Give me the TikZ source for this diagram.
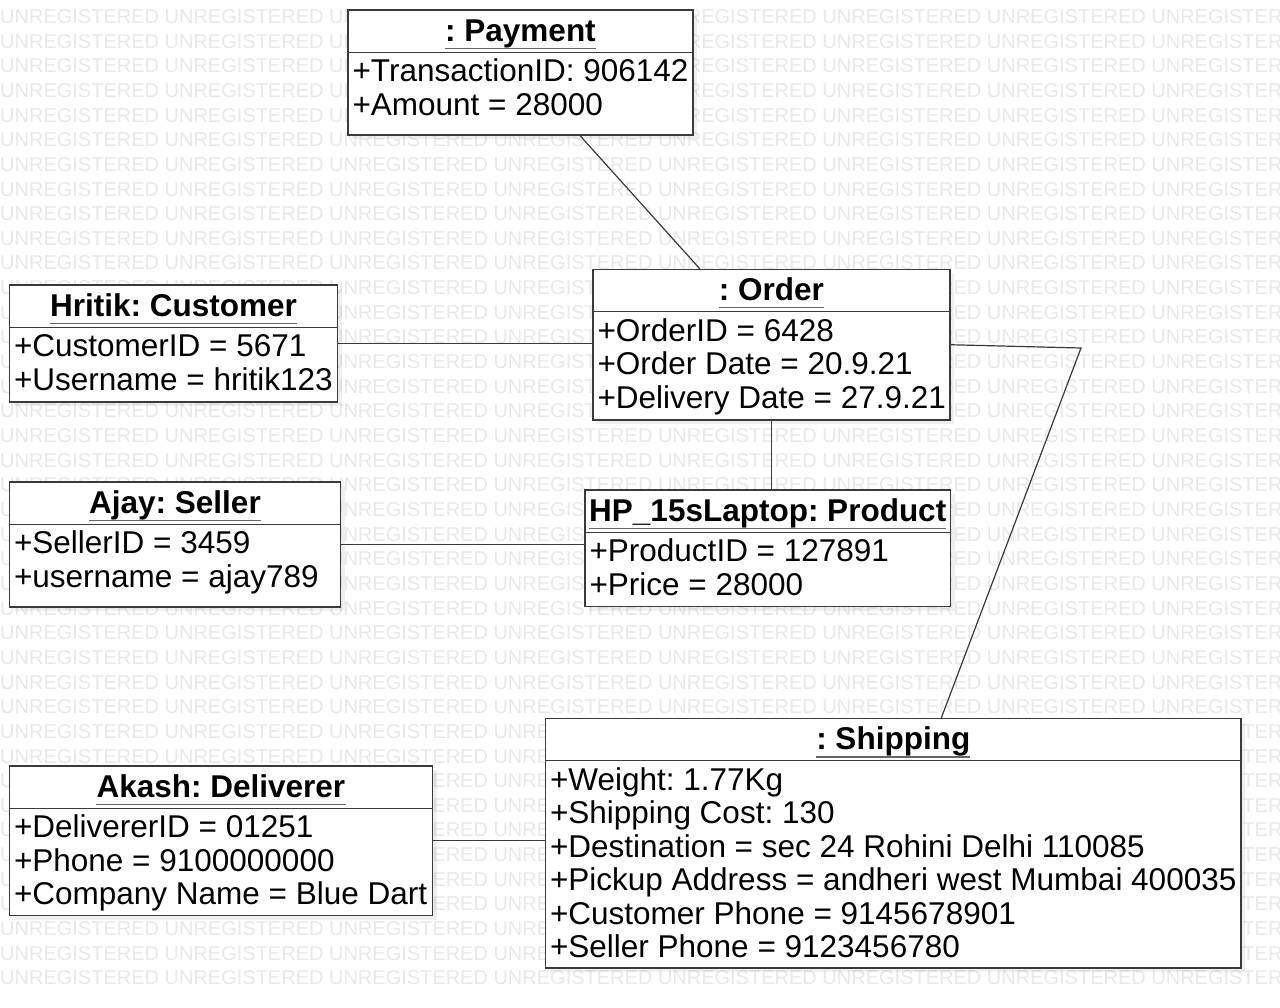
\documentclass[tikz,border=0pt]{standalone}
\usepackage{fontspec}
\setmainfont{Liberation Sans}
\usetikzlibrary{calc,shadows}
\definecolor{umlline}{HTML}{3A3A3A}
\definecolor{wmark}{HTML}{E8E8E8}
\frenchspacing

\begin{document}
\begin{tikzpicture}[
    x=1pt, y=-1pt,
  objbox/.style={rectangle, draw=umlline, line width=1.3pt, fill=white, inner sep=0pt,
    drop shadow={opacity=0.12, shadow xshift=4pt, shadow yshift=-4pt}},
  objtitle/.style={anchor=base, inner sep=0pt, font=\bfseries\fontsize{31.5}{33.5}\selectfont},
  objattr/.style={anchor=base west, inner sep=0pt, font=\fontsize{31.5}{33.5}\selectfont},
  uline/.style={draw=black!60, line width=1.3pt},
  sepline/.style={draw=umlline, line width=1.1pt},
  link/.style={draw=umlline, line width=1.2pt},
  wmtext/.style={anchor=base west, inner sep=0pt, text=wmark, font=\fontsize{20}{24}\selectfont}
]

\fill[white] (0,0) rectangle (1280,1008);
\useasboundingbox (0,0) rectangle (1280,1008);

% Watermark
\begin{scope}
\clip (0,0) rectangle (1280,1008);
\foreach \r in {0,...,39}
  \node[wmtext] (wm\r) at (0,{23.5+24.65*\r}) {UNREGISTERED UNREGISTERED UNREGISTERED UNREGISTERED UNREGISTERED UNREGISTERED UNREGISTERED UNREGISTERED};
\end{scope}

% Object boxes
\node[objbox, minimum width=345pt, minimum height=125pt] (payment) at (520.5,72.5) {};
\node[objbox, minimum width=328pt, minimum height=117pt] (customer) at (173.5,343.5) {};
\node[objbox, minimum width=357pt, minimum height=150.5pt] (order) at (771.5,344.75) {};
\node[objbox, minimum width=331pt, minimum height=125pt] (seller) at (175,544.5) {};
\node[objbox, minimum width=365.5pt, minimum height=116.5pt] (product) at (767.75,548.25) {};
\node[objbox, minimum width=695.5pt, minimum height=249.5pt] (shipping) at (893.25,843.25) {};
\node[objbox, minimum width=423pt, minimum height=149.5pt] (deliverer) at (221,840.75) {};

% Titles and compartments
\foreach \b/\t in {payment/{: Payment}, customer/{Hritik: Customer}, order/{: Order},
    seller/{Ajay: Seller}, product/{HP\_15sLaptop: Product}, shipping/{: Shipping},
    deliverer/{Akash: Deliverer}} {
  \node[objtitle] (\b-title) at ([yshift=-32pt]\b.north) {\t};
  \draw[uline] ([yshift=-7pt]\b-title.base west) -- ([yshift=-7pt]\b-title.base east);
  \draw[sepline] ([yshift=-43pt]\b.north west) -- ([yshift=-43pt]\b.north east);
}

% Attributes
\foreach \a [count=\i, evaluate=\i as \dy using -72.5-33.5*(\i-1)] in {+TransactionID: 906142, +Amount = 28000}
  \node[objattr] (payment\i) at ([xshift=5pt, yshift=\dy pt]payment.north west) {\a};
\foreach \a [count=\i, evaluate=\i as \dy using -72.5-33.5*(\i-1)] in {+CustomerID = 5671, +Username = hritik123}
  \node[objattr] (customer\i) at ([xshift=5pt, yshift=\dy pt]customer.north west) {\a};
\foreach \a [count=\i, evaluate=\i as \dy using -72.5-33.5*(\i-1)] in {+OrderID = 6428, +Order Date = 20.9.21, +Delivery Date = 27.9.21}
  \node[objattr] (order\i) at ([xshift=5pt, yshift=\dy pt]order.north west) {\a};
\foreach \a [count=\i, evaluate=\i as \dy using -72.5-33.5*(\i-1)] in {+SellerID = 3459, +username = ajay789}
  \node[objattr] (seller\i) at ([xshift=5pt, yshift=\dy pt]seller.north west) {\a};
\foreach \a [count=\i, evaluate=\i as \dy using -72.5-33.5*(\i-1)] in {+ProductID = 127891, +Price = 28000}
  \node[objattr] (product\i) at ([xshift=5pt, yshift=\dy pt]product.north west) {\a};
\foreach \a [count=\i, evaluate=\i as \dy using -72.5-33.5*(\i-1)] in {+Weight: 1.77Kg, +Shipping Cost: 130, +Destination = sec 24 Rohini Delhi 110085, +Pickup Address = andheri west Mumbai 400035, +Customer Phone = 9145678901, +Seller Phone = 9123456780}
  \node[objattr] (shipping\i) at ([xshift=5pt, yshift=\dy pt]shipping.north west) {\a};
\foreach \a [count=\i, evaluate=\i as \dy using -72.5-33.5*(\i-1)] in {+DelivererID = 01251, +Phone = 9100000000, +Company Name = Blue Dart}
  \node[objattr] (deliverer\i) at ([xshift=5pt, yshift=\dy pt]deliverer.north west) {\a};

% Links
\coordinate (bend) at (1081,348);
\draw[link] ($(payment.south west)!0.672!(payment.south east)$) -- ($(order.north west)!0.3!(order.north east)$);
\draw[link] (customer.east) -- (customer.east -| order.west);
\draw[link] (order.south) -- (order.south |- product.north);
\draw[link] (seller.east) -- (seller.east -| product.west);
\draw[link] (order.east) -- (bend) -- ($(shipping.north west)!0.569!(shipping.north east)$);
\draw[link] (deliverer.east) -- (deliverer.east -| shipping.west);

\end{tikzpicture}
\end{document}
